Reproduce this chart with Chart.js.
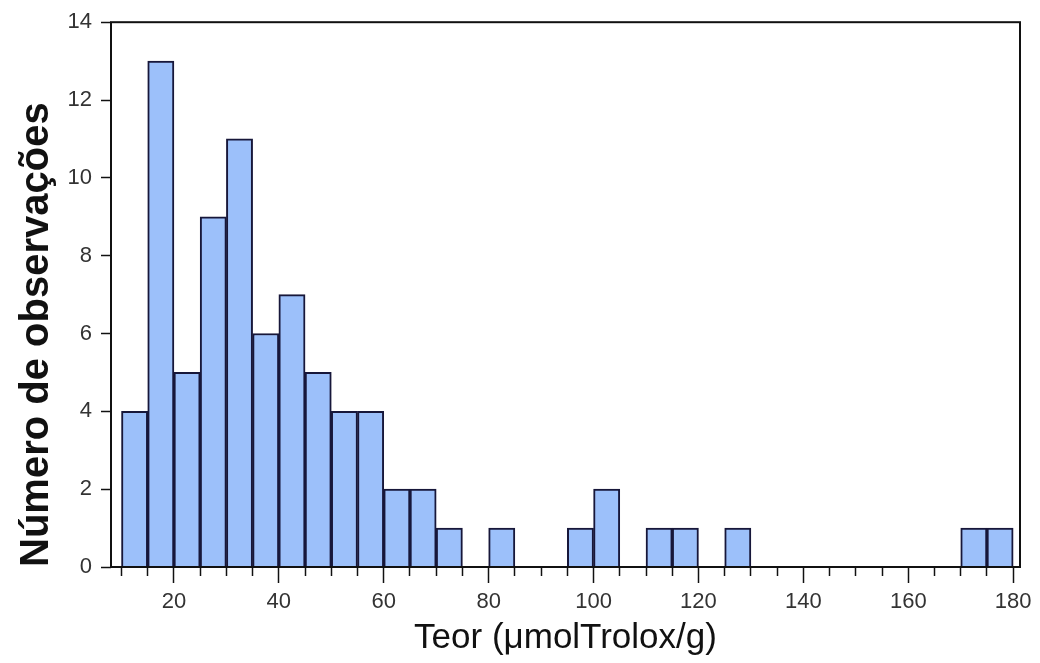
<!DOCTYPE html>
<html>
<head>
<meta charset="utf-8">
<script src="https://cdn.jsdelivr.net/npm/chart.js@4.4.1/dist/chart.umd.min.js"></script>
<style>
  html, body { margin: 0; padding: 0; background: #fff; }
</style>
</head>
<body>
<canvas id="chart" width="1040" height="663"></canvas>
<script>
// histogram: lower edge of each non-empty bin (width 5) and its count
let binStart = [10, 15, 20, 25, 30, 35, 40, 45, 50, 55, 60, 65, 70, 80, 95, 100, 110, 115, 125, 170, 175]
let counts = [4, 13, 5, 9, 11, 6, 7, 5, 4, 4, 2, 2, 1, 1, 1, 2, 1, 1, 1, 1, 1]
let binWidth = 5

let xTicks = [10, 15, 20, 25, 30, 35, 40, 45, 50, 55, 60, 65, 70, 75, 80, 85, 90, 95, 100,
  105, 110, 115, 120, 125, 130, 135, 140, 145, 150, 155, 160, 165, 170, 175, 180]
let xLabels = [20, 40, 60, 80, 100, 120, 140, 160, 180]
let yTicks = [0, 2, 4, 6, 8, 10, 12, 14]

Chart.defaults.font.family = '"Liberation Sans", Arial, sans-serif'

// black box round the plot area
const framePlugin = {
  id: 'frame',
  afterDatasetsDraw: (chart) => {
    const { ctx, chartArea: a } = chart
    ctx.save()
    ctx.strokeStyle = '#111'
    ctx.lineWidth = 2
    ctx.strokeRect(a.left, a.top, a.right - a.left, a.bottom - a.top)
    ctx.restore()
  }
}

let plot = new Chart(document.getElementById('chart').getContext('2d'), {
  type: 'bar',
  data: {
    datasets: [{
      label: 'Observações',
      data: binStart.map((s, i) => ({ x: s + binWidth / 2, y: counts[i] })),
      backgroundColor: '#9cc0fa',
      borderColor: '#17173a',
      borderWidth: 2,
      barPercentage: 1,
      categoryPercentage: 1
    }]
  },
  plugins: [framePlugin],
  options: {
    responsive: false,
    animation: false,
    layout: { padding: { top: 20, right: 20, left: 0, bottom: 0 } },
    plugins: {
      legend: { display: false },
      tooltip: { enabled: false }
    },
    scales: {
      x: {
        type: 'linear',
        min: 8,
        max: 181.3,
        offset: false,
        border: { display: false },
        grid: {
          offset: false,
          drawOnChartArea: false,
          tickLength: 16,
          tickWidth: 1.5,
          tickColor: '#111',
          // minor ticks only show the first part of the tick line
          tickBorderDash: ctx => (ctx.tick && xLabels.includes(ctx.tick.value)) ? [] : [9, 40]
        },
        ticks: {
          autoSkip: false,
          maxRotation: 0,
          padding: 6,
          color: '#333',
          font: { size: 22 },
          callback: v => xLabels.includes(v) ? String(v) : ''
        },
        afterBuildTicks: scale => { scale.ticks = xTicks.map(v => ({ value: v })) },
        afterFit: scale => { scale.height = 96 },
        title: {
          display: true,
          text: 'Teor (μmolTrolox/g)',
          color: '#111',
          font: { size: 35 },
          padding: { top: 0, bottom: 4 }
        }
      },
      y: {
        min: 0,
        max: 14,
        border: { display: false },
        grid: {
          drawOnChartArea: false,
          tickLength: 10,
          tickWidth: 1.5,
          tickColor: '#111'
        },
        ticks: {
          padding: 9,
          color: '#333',
          font: { size: 22 }
        },
        afterBuildTicks: scale => { scale.ticks = yTicks.map(v => ({ value: v })) },
        afterFit: scale => { scale.width = 111 },
        title: {
          display: true,
          text: 'Número de observações',
          align: 'start',
          color: '#111',
          font: { size: 40, weight: 'bold' },
          padding: { top: 13, bottom: 0 }
        }
      }
    }
  }
})
</script>
</body>
</html>
